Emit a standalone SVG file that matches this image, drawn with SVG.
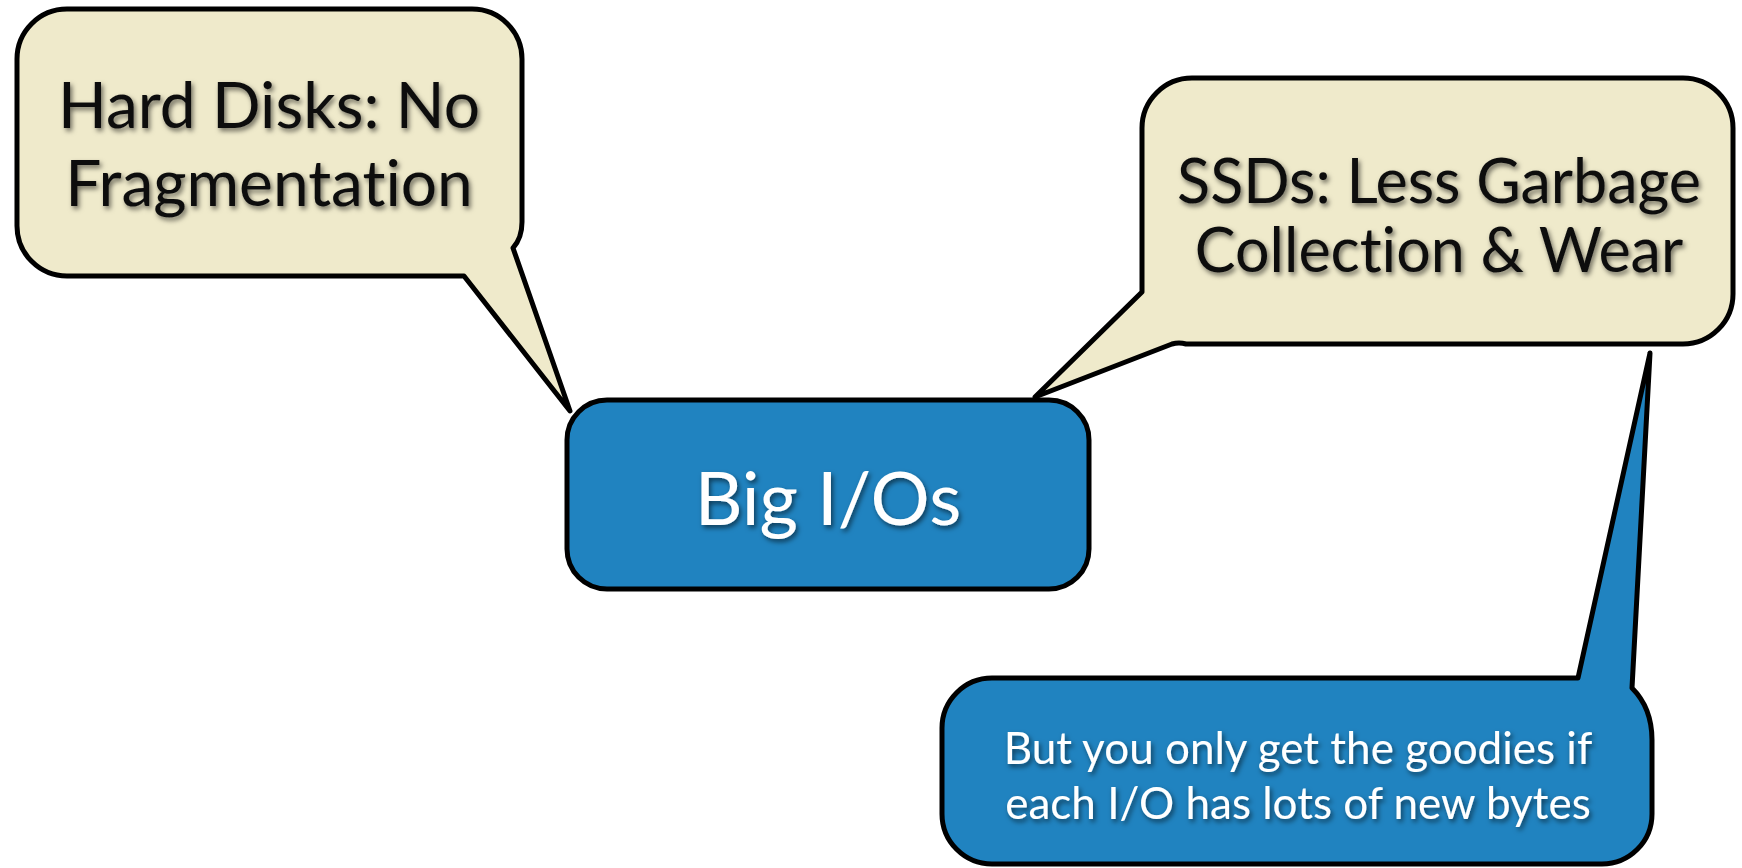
<svg xmlns="http://www.w3.org/2000/svg" width="1742" height="868" viewBox="0 0 1742 868">
  <defs>
    <filter id="textShadow" x="-10%" y="-30%" width="120%" height="160%">
      <feDropShadow dx="2" dy="3" stdDeviation="2.5" flood-color="#000" flood-opacity="0.55"/>
    </filter>
  </defs>
  <style>
    .bubble { stroke: #000; stroke-width: 5; stroke-linejoin: round; }
    .cream { fill: #EFEACB; }
    .blue { fill: #2083C0; }
    .label { font-family: Lato, "Open Sans", "Liberation Sans", sans-serif; text-anchor: middle; font-variant-ligatures: none; filter: url(#textShadow); }
    .dark { fill: #111; }
    .light { fill: #fff; }
  </style>

  <rect width="1742" height="868" fill="#fff"/>

  <!-- callout tails are drawn as part of each bubble outline -->
  <g id="connectors"></g>

  <g id="hard-disks">
    <path class="bubble cream" d="M 67,9 H 472 A 50 50 0 0 1 522 59 V 222 Q 522 238 513 248 L 570 411 L 464 276 H 67 A 50 50 0 0 1 17 226 V 59 A 50 50 0 0 1 67 9 Z"/>
    <text class="label dark" x="269" y="128" font-size="64">Hard Disks: No</text>
    <text class="label dark" x="269" y="206" font-size="64">Fragmentation</text>
  </g>

  <g id="ssds">
    <path class="bubble cream" d="M 1192,78 H 1683 A 50 50 0 0 1 1733 128 V 294 A 50 50 0 0 1 1683 344 H 1186 Q 1179 342 1172 344 L 1035 397 L 1142 292 V 128 A 50 50 0 0 1 1192 78 Z"/>
    <text class="label dark" x="1439" y="203" font-size="61">SSDs: Less Garbage</text>
    <text class="label dark" x="1439" y="272" font-size="61">Collection &amp; Wear</text>
  </g>

  <g id="goodies">
    <path class="bubble blue" d="M 992,678 H 1578 L 1650 353 L 1632 688 Q 1652 708 1652 740 V 814 A 50 50 0 0 1 1602 864 H 992 A 50 50 0 0 1 942 814 V 728 A 50 50 0 0 1 992 678 Z"/>
    <text class="label light" x="1298" y="764" font-size="44">But you only get the goodies if</text>
    <text class="label light" x="1298" y="819" font-size="44">each I/O has lots of new bytes</text>
  </g>

  <g id="big-ios">
    <rect class="bubble blue" x="567" y="400" width="522" height="189" rx="40" ry="40"/>
    <text class="label light" x="828" y="525" font-size="74">Big I/Os</text>
  </g>
</svg>
